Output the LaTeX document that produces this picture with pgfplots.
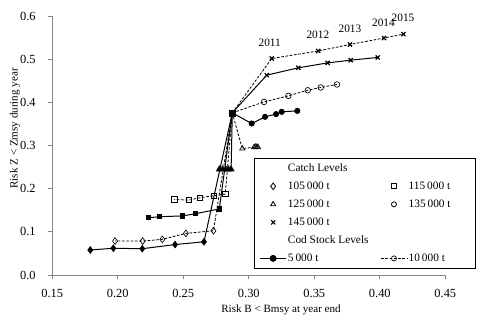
\documentclass[border=0pt]{standalone}
\usepackage{fontspec}
\setmainfont{Liberation Serif}
\usepackage{pgfplots}
\pgfplotsset{compat=1.18}
\definecolor{axisgray}{HTML}{868686}
\pgfplotsset{
  solidser/.style={black, line width=0.75pt, solid, mark size=1.8pt},
  dashser/.style={black, line width=0.6pt, dash pattern=on 2pt off 1.2pt, mark size=1.9pt, mark options={solid, fill=white, line width=0.5pt}},
  mylinelegend/.style={legend image code/.code={%
      \draw[##1] (0pt,0pt) -- (19.5pt,0pt);
      \draw[##1, mark repeat=2, mark phase=2] plot coordinates {(0pt,0pt) (9.75pt,0pt) (19.5pt,0pt)};}},
  mymarklegend/.style={legend image code/.code={%
      \draw[##1, mark repeat=2, mark phase=2] plot coordinates {(0pt,0pt) (9.75pt,0pt) (19.5pt,0pt)};}},
}
\begin{document}
\begin{tikzpicture}
\path[use as bounding box] (-39.2pt,-33.75pt) rectangle (321.5pt,206.25pt);
\begin{axis}[
  at={(0,0)}, anchor=south west,
  scale only axis, width=294.75pt, height=194.25pt,
  clip=false,
  xmin=0.15, xmax=0.45, ymin=0, ymax=0.6,
  xtick={0.15,0.20,0.25,0.30,0.35,0.40,0.45},
  ytick={0,0.1,0.2,0.3,0.4,0.5,0.6},
  axis lines=left,
  axis line style={-, draw=axisgray, line width=0.6pt},
  tick style={draw=axisgray, line width=0.6pt},
  tick align=outside, major tick length=3pt,
  /pgf/number format/assume math mode=true,
  xticklabel style={/pgf/number format/fixed, /pgf/number format/fixed zerofill, /pgf/number format/precision=2, yshift=-4pt},
  yticklabel style={/pgf/number format/fixed, /pgf/number format/fixed zerofill, /pgf/number format/precision=1, xshift=-6pt},
  ticklabel style={font=\fontsize{9.3}{10}\selectfont},
  xlabel={Risk B < Bmsy at year end},
  ylabel={Risk Z < Zmsy during year},
  xlabel style={font=\fontsize{8.3}{10}\selectfont, at={(axis description cs:0.582,0)}, anchor=center, yshift=-26.25pt},
  ylabel style={font=\fontsize{8.3}{10}\selectfont, at={(axis description cs:0,0.566)}, anchor=center, yshift=28pt},
  legend columns=2,
  legend cell align=left,
  legend style={at={(axis description cs:0.513,0.452)}, anchor=north west,
    draw=black, line width=0.6pt, fill=white,
    font=\fontsize{8.5}{10}\selectfont,
    inner xsep=4pt, inner ysep=2.75pt,
    row sep=4pt,
    nodes={inner sep=1pt, text height=6pt, text depth=1.5pt},
    /tikz/every even column/.append style={column sep=8pt}},
]
% ---- legend ----
\addlegendimage{empty legend}\addlegendentry{Catch Levels}
\addlegendimage{empty legend}\addlegendentry{}
\addlegendimage{mymarklegend, only marks, mark=diamond, mark size=2.5pt, black, line width=0.6pt}\addlegendentry{105\,000 t}
\addlegendimage{mymarklegend, only marks, mark=square, mark size=1.9pt, black, line width=0.6pt}\addlegendentry{115\,000 t\hspace*{14pt}}
\addlegendimage{mymarklegend, only marks, mark=triangle, mark size=2.2pt, black, line width=0.6pt}\addlegendentry{125\,000 t}
\addlegendimage{mymarklegend, only marks, mark=o, mark size=1.9pt, black, line width=0.6pt}\addlegendentry{135\,000 t}
\addlegendimage{mymarklegend, only marks, mark=x, mark size=2.2pt, black, line width=0.8pt}\addlegendentry{145\,000 t}
\addlegendimage{empty legend}\addlegendentry{}
\addlegendimage{empty legend}\addlegendentry{Cod Stock Levels}
\addlegendimage{empty legend}\addlegendentry{}
\addlegendimage{mylinelegend, solidser, mark=*, mark size=2.2pt}\addlegendentry{5\,000 t}
\addlegendimage{mylinelegend, dashser, mark=o}\addlegendentry{10\,000 t}

% ---- 105 000 t ----
\addplot[forget plot, solidser, mark=diamond*, mark size=2.3pt, mark indices={2,3,4,5,6}] coordinates {
 (0.2874,0.3757) (0.2658,0.077) (0.2437,0.0706) (0.2187,0.061) (0.1966,0.062) (0.179,0.058)};
\addplot[forget plot, dashser, mark=diamond, mark size=2.5pt, mark indices={2,3,4,5,6}] coordinates {
 (0.2874,0.3757) (0.273,0.1025) (0.252,0.0965) (0.234,0.0826) (0.219,0.0787) (0.1979,0.0787)};
% ---- 115 000 t ----
\addplot[forget plot, solidser, mark=square*, mark size=1.6pt, mark indices={2,3,4,5,6}] coordinates {
 (0.2874,0.3757) (0.2775,0.153) (0.2592,0.142) (0.2495,0.137) (0.2317,0.135) (0.2233,0.1327)};
\addplot[forget plot, dashser, mark=square, mark size=2pt, mark indices={2,3,4,5,6}] coordinates {
 (0.2874,0.3757) (0.282,0.1875) (0.2735,0.184) (0.2628,0.179) (0.2544,0.1736) (0.2431,0.175)};
% ---- 125 000 t ----
\addplot[forget plot, solidser, mark=triangle*, mark size=2.3pt, mark indices={2,3,4,5,6}] coordinates {
 (0.2874,0.3757) (0.2865,0.245) (0.2845,0.245) (0.2825,0.245) (0.2800,0.245) (0.2775,0.245)};
\addplot[forget plot, dashser, mark=triangle, mark size=2.3pt, mark indices={2,3,4,5,6}] coordinates {
 (0.2874,0.3757) (0.2950,0.293) (0.3040,0.296) (0.3052,0.297) (0.3062,0.297) (0.3070,0.296)};
% ---- 135 000 t ----
\addplot[forget plot, solidser, mark=*, mark size=1.9pt, mark indices={2,3,4,5,6}] coordinates {
 (0.2874,0.3757) (0.3022,0.351) (0.3124,0.3665) (0.3208,0.3727) (0.3251,0.378) (0.337,0.3803)};
\addplot[forget plot, dashser, mark=o, mark size=2.1pt, mark indices={2,3,4,5,6}] coordinates {
 (0.2874,0.3757) (0.3116,0.401) (0.3302,0.415) (0.345,0.428) (0.3549,0.4345) (0.3673,0.4414)};
% ---- 145 000 t ----
\addplot[forget plot, solidser, mark=x, mark size=2.2pt, mark options={solid, line width=0.9pt}, mark indices={2,3,4,5,6}] coordinates {
 (0.2874,0.3757) (0.3137,0.463) (0.3378,0.480) (0.3602,0.4914) (0.3778,0.4977) (0.3984,0.504)};
\addplot[forget plot, dashser, mark=x, mark size=2.2pt, mark options={solid, line width=0.9pt}, mark indices={2,3,4,5,6}] coordinates {
 (0.2874,0.3757) (0.3175,0.5016) (0.353,0.519) (0.3772,0.534) (0.4032,0.549) (0.418,0.558)};
% ---- common start point ----
\addplot[forget plot, only marks, mark=square*, mark size=2.2pt, black] coordinates {(0.2874,0.3757)};
% ---- year labels ----
\node[font=\fontsize{8.5}{10}\selectfont] at (axis cs:0.316,0.537) {2011};
\node[font=\fontsize{8.5}{10}\selectfont] at (axis cs:0.3527,0.5555) {2012};
\node[font=\fontsize{8.5}{10}\selectfont] at (axis cs:0.3772,0.5694) {2013};
\node[font=\fontsize{8.5}{10}\selectfont] at (axis cs:0.4028,0.584) {2014};
\node[font=\fontsize{8.5}{10}\selectfont] at (axis cs:0.4177,0.595) {2015};
\end{axis}
\end{tikzpicture}
\end{document}
